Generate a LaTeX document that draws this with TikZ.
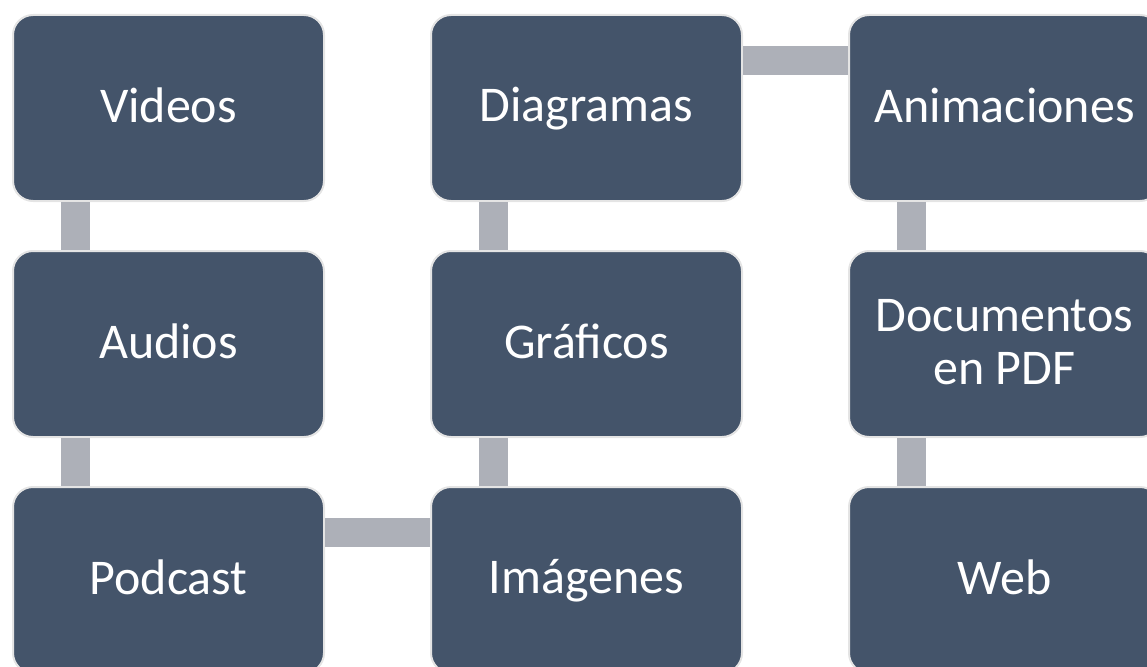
\documentclass[tikz,border=0pt]{standalone}
\usepackage{fontspec}
\setmainfont{Carlito}
\definecolor{boxfill}{HTML}{44546A}
\definecolor{boxline}{HTML}{E4E4E4}
\definecolor{connfill}{HTML}{ADB0B8}
\newcommand{\wtxt}[1]{\rule[-8pt]{0pt}{44pt}#1}
\begin{document}
\begin{tikzpicture}[x=1pt,y=-1pt,
  item/.style={draw=boxline, line width=2pt, fill=boxfill, rounded corners=20pt,
    minimum width=311pt, minimum height=186pt, inner sep=0pt,
    text=white, font=\fontsize{50}{53}\selectfont, align=center},
  conn/.style={draw=connfill, line width=29pt, line cap=butt}]
\useasboundingbox (0,0) rectangle (1147,666);
\clip (0,0) rectangle (1147,666);
\path
  (168.5,108) coordinate (c11) (168.5,344) coordinate (c12) (168.5,580) coordinate (c13)
  (586.5,108) coordinate (c21) (586.5,344) coordinate (c22) (586.5,580) coordinate (c23)
  (1004.5,108) coordinate (c31) (1004.5,344) coordinate (c32) (1004.5,580) coordinate (c33);
\node[item] (vid) at (c11) {\wtxt{Videos}};
\node[item] (aud) at (c12) {\wtxt{Audios}};
\node[item] (pod) at (c13) {\wtxt{Podcast}};
\node[item] (img) at (c23) {\wtxt{Imágenes}};
\node[item] (gra) at (c22) {\wtxt{Gráficos}};
\node[item] (dia) at (c21) {\wtxt{Diagramas}};
\node[item] (ani) at (c31) {\wtxt{Animaciones}};
\node[item] (doc) at (c32) {\wtxt{Documentos}\\\wtxt{en PDF}};
\node[item] (web) at (c33) {\wtxt{Web}};
\draw[conn] ([xshift=63.5pt]vid.south west) -- ([xshift=63.5pt]aud.north west);
\draw[conn] ([xshift=63.5pt]aud.south west) -- ([xshift=63.5pt]pod.north west);
\draw[conn] ([yshift=-46.5pt]pod.north east) -- ([yshift=-46.5pt]img.north west);
\draw[conn] ([xshift=63.5pt]img.north west) -- ([xshift=63.5pt]gra.south west);
\draw[conn] ([xshift=63.5pt]gra.north west) -- ([xshift=63.5pt]dia.south west);
\draw[conn] ([yshift=-46.5pt]dia.north east) -- ([yshift=-46.5pt]ani.north west);
\draw[conn] ([xshift=63.5pt]ani.south west) -- ([xshift=63.5pt]doc.north west);
\draw[conn] ([xshift=63.5pt]doc.south west) -- ([xshift=63.5pt]web.north west);
\end{tikzpicture}
\end{document}
